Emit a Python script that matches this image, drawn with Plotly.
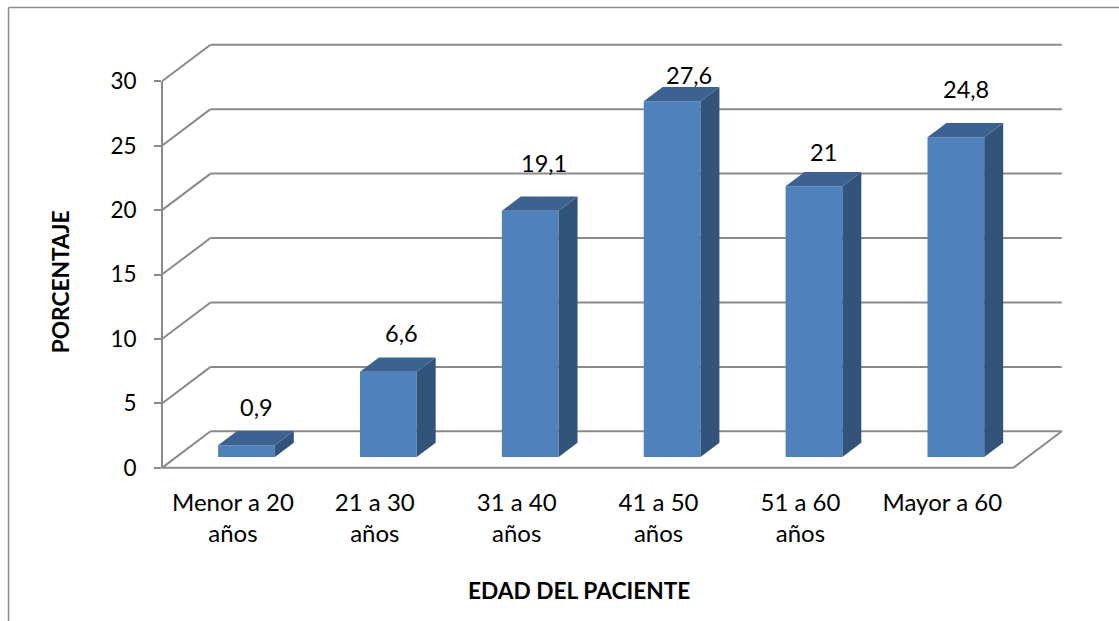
import plotly.graph_objects as go

categories = ["Menor a 20<br>años", "21 a 30<br>años", "31 a 40<br>años", "41 a 50<br>años", "51 a 60<br>años", "Mayor a 60"]
values = [0.9, 6.6, 19.1, 27.6, 21, 24.8]
value_labels = ["0,9", "6,6", "19,1", "27,6", "21", "24,8"]
y_ticks = [0, 5, 10, 15, 20, 25, 30]
label_dx = [0, 3, 3, 6, -1, 0]
label_dy = [24, 25, 34, 12, 20, 34]

W, H = 1119, 621
PX_X = 141.9   # pixels per category
PX_Y = 12.88   # pixels per value unit
X0_PX, Y0_PX = 161.5, 468.0   # position of front-left floor corner
DX, DY = 0.342, 2.834         # depth vector, axis units
F0, F1 = 0.30, 0.39           # bar start and bar depth, fractions of depth
BAR_W = 0.40
BAR_SHIFT = -1.0 / PX_X
XMIN, XMAX = -0.5, 5.9
YMIN, YMAX = -0.4, 33.2

FRONT, SIDE, TOP = "#4F81BD", "#32547B", "#3B6291"
GRID = "#8A8A8A"
FONT = "Lato"

l = X0_PX
r = W - (X0_PX + (XMAX - XMIN) * PX_X)
t = Y0_PX - YMAX * PX_Y
b = H - (Y0_PX - YMIN * PX_Y)
pw = W - l - r
ph = H - t - b


def paper_x(px):
    return (px - l) / pw


def paper_y(px):
    return (H - b - px) / ph


fig = go.Figure()

xs = list(range(len(values)))
fig.add_trace(go.Bar(
    x=[i + F0 * DX + BAR_SHIFT for i in xs], y=values, base=[F0 * DY] * len(values),
    width=BAR_W, marker=dict(color=FRONT, line=dict(width=0)), hoverinfo="skip",
))

for i, v in zip(xs, values):
    x1 = i + F0 * DX + BAR_SHIFT - BAR_W / 2
    x2 = x1 + BAR_W
    yb = F0 * DY
    yt = yb + v
    ddx, ddy = F1 * DX, F1 * DY
    fig.add_trace(go.Scatter(
        x=[x2, x2 + ddx, x2 + ddx, x2, x2], y=[yb, yb + ddy, yt + ddy, yt, yb],
        mode="lines", fill="toself", fillcolor=SIDE, line=dict(width=0), hoverinfo="skip",
    ))
    fig.add_trace(go.Scatter(
        x=[x1, x2, x2 + ddx, x1 + ddx, x1], y=[yt, yt, yt + ddy, yt + ddy, yt],
        mode="lines", fill="toself", fillcolor=TOP, line=dict(width=0), hoverinfo="skip",
    ))

line = dict(color=GRID, width=2)
shapes = []
for v in y_ticks:
    # side wall diagonal and back wall line
    shapes.append(dict(type="line", xref="x", yref="y", layer="below", line=line,
                       x0=XMIN, y0=v, x1=XMIN + DX, y1=v + DY))
    shapes.append(dict(type="line", xref="x", yref="y", layer="below", line=line,
                       x0=XMIN + DX, y0=v + DY, x1=5.5 + DX, y1=v + DY))
# floor front and right edge
shapes.append(dict(type="line", xref="x", yref="y", layer="below", line=line,
                   x0=XMIN, y0=0, x1=5.5, y1=0))
shapes.append(dict(type="line", xref="x", yref="y", layer="below", line=line,
                   x0=5.5, y0=0, x1=5.5 + DX, y1=DY))
# value axis line
shapes.append(dict(type="line", xref="paper", yref="y", layer="above", line=line,
                   x0=0, y0=0, x1=0, y1=30))
# outer chart frame (left and top only)
frame = dict(color="#8C8C8C", width=1.5)
shapes.append(dict(type="line", xref="paper", yref="paper", line=frame,
                   x0=paper_x(8), y0=paper_y(8), x1=paper_x(W), y1=paper_y(8)))
shapes.append(dict(type="line", xref="paper", yref="paper", line=frame,
                   x0=paper_x(8), y0=paper_y(8), x1=paper_x(8), y1=paper_y(H)))

annotations = []
for i, v, s, sx, sy in zip(xs, values, value_labels, label_dx, label_dy):
    annotations.append(dict(
        x=i + F0 * DX + F1 * DX / 2 + sx / PX_X, y=F0 * DY + v + F1 * DY, xref="x", yref="y",
        text=s, showarrow=False, yshift=sy, xanchor="center", yanchor="middle",
        font=dict(family=FONT, size=23.5, color="black"),
    ))
annotations.append(dict(
    xref="paper", yref="paper", x=paper_x(60), y=paper_y(282), text="<b>PORCENTAJE</b>",
    textangle=-90, showarrow=False, xanchor="center", yanchor="middle",
    font=dict(family=FONT, size=22.7, color="black"),
))
annotations.append(dict(
    xref="paper", yref="paper", x=paper_x(579), y=paper_y(591), text="<b>EDAD DEL PACIENTE</b>",
    showarrow=False, xanchor="center", yanchor="middle",
    font=dict(family=FONT, size=22.7, color="black"),
))

fig.update_layout(
    width=W, height=H, margin=dict(l=l, r=r, t=t, b=b, pad=0, autoexpand=False),
    paper_bgcolor="white", plot_bgcolor="white", showlegend=False,
    shapes=shapes, annotations=annotations,
    xaxis=dict(range=[XMIN, XMAX], tickvals=xs, ticktext=categories, showgrid=False, zeroline=False,
               showline=False, ticks="", ticklabelstandoff=13, tickangle=0,
               tickfont=dict(family=FONT, size=24, color="black")),
    yaxis=dict(range=[YMIN, YMAX], tickvals=y_ticks, showgrid=False, zeroline=False, showline=False,
               ticks="outside", ticklen=7, tickwidth=2, tickcolor=GRID, ticklabelstandoff=13,
               tickfont=dict(family=FONT, size=22.5, color="black")),
)

fig.write_html("out.html", config={"displayModeBar": False},
               post_script="document.body.style.margin='0';document.documentElement.style.overflow='hidden';")
